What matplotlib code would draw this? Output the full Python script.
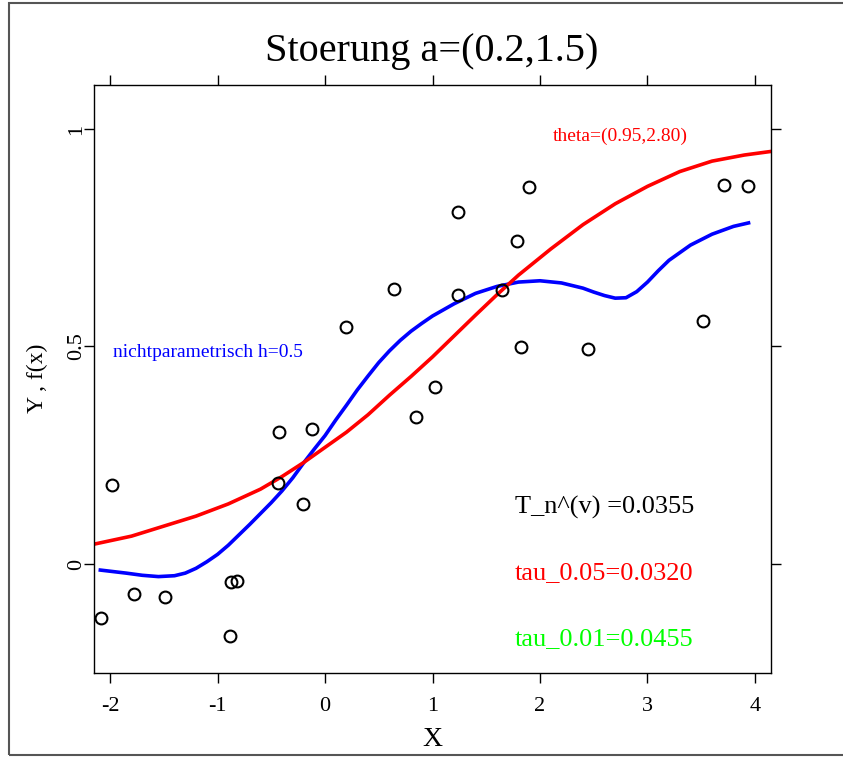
import matplotlib
matplotlib.use("Agg")
import matplotlib.pyplot as plt
from matplotlib.patches import Rectangle

# =========================
# Daten
# =========================

obs_x = [-1.98, -2.084, -1.777, -1.488, -0.884, -0.874, -0.82, -0.205, -0.437,
         -0.428, -0.121, 0.195, 0.642, 0.847, 1.023, 1.237, 1.237, 1.647,
         1.786, 1.823, 1.898, 2.447, 3.516, 3.712, 3.935]
obs_y = [0.182, -0.124, -0.069, -0.076, -0.166, -0.042, -0.038, 0.138, 0.186,
         0.303, 0.310, 0.545, 0.632, 0.338, 0.407, 0.809, 0.618, 0.630,
         0.742, 0.499, 0.867, 0.494, 0.559, 0.871, 0.869]

# parametrischer Fit (rot)
par_x = [-2.14, -1.8, -1.5, -1.2, -0.9, -0.6, -0.4, -0.2, 0.0, 0.2, 0.4,
         0.6, 0.8, 1.0, 1.2, 1.4, 1.6, 1.8, 2.1, 2.4, 2.7, 3.0, 3.3, 3.6,
         3.9, 4.14]
par_y = [0.046, 0.064, 0.087, 0.110, 0.138, 0.172, 0.201, 0.233, 0.268,
         0.303, 0.343, 0.388, 0.431, 0.476, 0.524, 0.572, 0.619, 0.664,
         0.724, 0.780, 0.828, 0.868, 0.902, 0.926, 0.940, 0.948]

# nichtparametrischer Schaetzer (blau)
np_x = [-2.09, -1.85, -1.7, -1.55, -1.4, -1.3, -1.2, -1.1, -1.0, -0.9, -0.8,
        -0.7, -0.6, -0.5, -0.4, -0.3, -0.2, -0.1, 0.0, 0.1, 0.2, 0.3, 0.4,
        0.5, 0.6, 0.7, 0.8, 0.9, 1.0, 1.2, 1.4, 1.6, 1.8, 2.0, 2.2, 2.4,
        2.5, 2.6, 2.7, 2.8, 2.9, 3.0, 3.1, 3.2, 3.4, 3.6, 3.8, 3.94]
np_y = [-0.014, -0.021, -0.026, -0.029, -0.027, -0.021, -0.010, 0.005,
        0.022, 0.043, 0.067, 0.091, 0.116, 0.141, 0.168, 0.198, 0.232,
        0.264, 0.295, 0.331, 0.365, 0.400, 0.432, 0.463, 0.490, 0.514,
        0.535, 0.553, 0.570, 0.598, 0.622, 0.638, 0.648, 0.651, 0.646,
        0.634, 0.625, 0.617, 0.611, 0.612, 0.626, 0.648, 0.674, 0.698,
        0.733, 0.758, 0.776, 0.784]

x_ticks = [-2, -1, 0, 1, 2, 3, 4]
y_ticks = [0, 0.5, 1]
y_tick_labels = ["0", "0.5", "1"]


def main():
    plt.rcParams["font.family"] = ["Liberation Serif", "DejaVu Serif"]

    fig = plt.figure(figsize=(8.43, 7.57), dpi=100)

    # aeusserer Rahmen
    fig.patches.append(Rectangle(
        (9 / 843, 2 / 757), 1.2, 752 / 757,
        transform=fig.transFigure, fill=False,
        edgecolor="#555555", linewidth=1.5, clip_on=False
    ))

    ax = fig.add_axes([94 / 843, 84 / 757, 677 / 843, 588 / 757])

    ax.plot(np_x, np_y, color="blue", linewidth=2.6)
    ax.plot(par_x, par_y, color="red", linewidth=2.6)
    ax.plot(
        obs_x, obs_y,
        linestyle="none", marker="o", markersize=8.5,
        markerfacecolor="none", markeredgecolor="black", markeredgewidth=1.5
    )

    ax.set_xlim(-2.149, 4.149)
    ax.set_ylim(-0.2506, 1.101)

    ax.set_xticks(x_ticks)
    ax.set_xticklabels([str(v) for v in x_ticks])
    ax.set_yticks(y_ticks)
    ax.set_yticklabels(y_tick_labels, rotation=90, va="center")

    ax.tick_params(
        axis="both", direction="out", length=7, width=1,
        top=True, right=True, labelsize=16
    )
    ax.tick_params(axis="x", pad=10)
    ax.tick_params(axis="y", pad=-1)

    for spine in ax.spines.values():
        spine.set_linewidth(1)

    # Texte
    ax.text(2.744, 0.982, "theta=(0.95,2.80)", color="red",
            fontsize=14, ha="center", va="center")
    ax.text(-1.088, 0.485, "nichtparametrisch h=0.5", color="blue",
            fontsize=14, ha="center", va="center")
    ax.text(1.767, 0.129, "T_n^(v) =0.0355", color="black",
            fontsize=19, ha="left", va="center")
    ax.text(1.767, -0.021, "tau_0.05=0.0320", color="red",
            fontsize=19, ha="left", va="center")
    ax.text(1.767, -0.172, "tau_0.01=0.0455", color="#00ff00",
            fontsize=19, ha="left", va="center")

    fig.text(432 / 843, 1 - 52 / 757, "Stoerung a=(0.2,1.5)",
             fontsize=29, ha="center", va="center")
    fig.text(432 / 843, 1 - 740 / 757, "X",
             fontsize=20, ha="center", va="center")
    fig.text(37 / 843, 1 - 378 / 757, "Y , f(x)",
             fontsize=17, ha="center", va="center", rotation=90)

    fig.savefig("out.png", dpi=100)
    plt.close(fig)


if __name__ == "__main__":
    main()
